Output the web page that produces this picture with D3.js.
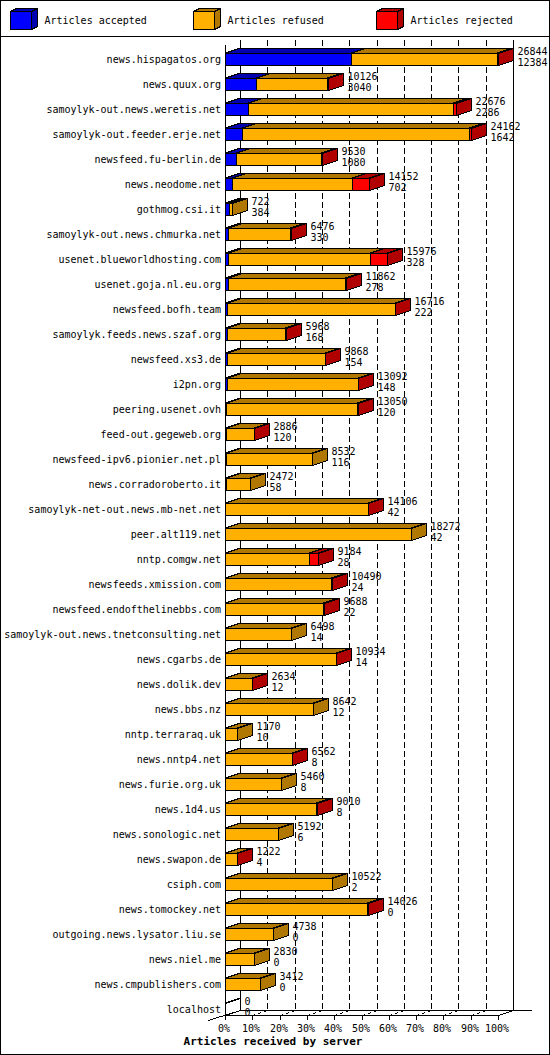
<!DOCTYPE html>
<html>
<head>
<meta charset="utf-8">
<script src="https://cdn.jsdelivr.net/npm/d3@7"></script>
<style>
  body { margin: 0; background: #fff; }
  text { font-family: "DejaVu Sans Mono", "Liberation Mono", monospace; }
</style>
</head>
<body>
<script>

// servers, top to bottom
const servers = [
  "news.hispagatos.org", "news.quux.org", "samoylyk-out.news.weretis.net",
  "samoylyk-out.feeder.erje.net", "newsfeed.fu-berlin.de", "news.neodome.net",
  "gothmog.csi.it", "samoylyk-out.news.chmurka.net", "usenet.blueworldhosting.com",
  "usenet.goja.nl.eu.org", "newsfeed.bofh.team", "samoylyk.feeds.news.szaf.org",
  "newsfeed.xs3.de", "i2pn.org", "peering.usenet.ovh", "feed-out.gegeweb.org",
  "newsfeed-ipv6.pionier.net.pl", "news.corradoroberto.it",
  "samoylyk-net-out.news.mb-net.net", "peer.alt119.net", "nntp.comgw.net",
  "newsfeeds.xmission.com", "newsfeed.endofthelinebbs.com",
  "samoylyk-out.news.tnetconsulting.net", "news.cgarbs.de", "news.dolik.dev",
  "news.bbs.nz", "nntp.terraraq.uk", "news.nntp4.net", "news.furie.org.uk",
  "news.1d4.us", "news.sonologic.net", "news.swapon.de", "csiph.com",
  "news.tomockey.net", "outgoing.news.lysator.liu.se", "news.niel.me",
  "news.cmpublishers.com", "localhost"
]

// articles accepted (second number on each bar)
const accepted = [12384, 3040, 2286, 1642, 1080, 702, 384, 330, 328, 278, 222, 168,
  154, 148, 120, 120, 116, 58, 42, 42, 28, 24, 22, 14, 14, 12, 12, 10, 8, 8, 8, 6,
  4, 2, 0, 0, 0, 0, 0]

// articles refused
const refused = [14370, 6976, 20110, 22340, 8400, 11810, 338, 6106, 13978, 11554,
  16454, 5770, 9694, 12914, 12900, 2746, 8416, 2414, 14044, 18230, 8206, 10446,
  9586, 6484, 10900, 2602, 8630, 1160, 6534, 5452, 8982, 5186, 1198, 10520, 14006,
  4738, 2830, 3412, 0]

// articles rejected (red part, mostly a sliver)
const rejected = [90, 110, 280, 180, 50, 1640, 0, 40, 1670, 30, 40, 30, 20, 30, 30,
  20, 0, 0, 20, 0, 950, 20, 80, 0, 20, 20, 0, 0, 20, 0, 20, 0, 20, 0, 20, 0, 0, 0, 0]

const tickLabels = ["0%", "10%", "20%", "30%", "40%", "50%", "60%", "70%", "80%", "90%", "100%"]
const legendLabels = ["Articles accepted", "Articles refused", "Articles rejected"]
const axisTitle = "Articles received by server"

let width = 550;
let height = 1055;

let colors = ["#0000ff", "#ffb000", "#ff0000"]
let darks = ["#0000b0", "#b07800", "#b00000"]

let svg = d3.select("body").append("svg")
    .attr("width", width)
    .attr("height", height)

// 3d depth of the bars
let dx = 15, dy = 5;

let data = servers.map(function (s, i) {
    return {
        name: s,
        values: [accepted[i], refused[i], rejected[i]],
        total: accepted[i] + refused[i] + rejected[i]
    }
})

let maxTotal = d3.max(data, d => d.total)

let x = d3.scaleLinear()
    .domain([0, maxTotal])
    .range([225, 498])

let pct = d3.scaleLinear()
    .domain([0, 100])
    .range([225, 498])

let y = d3.scalePoint()
    .domain(servers)
    .range([59, 1009])

let gridTop = 40, floorY = 1015;

// frame + legend separator
svg.append("rect")
    .attr("x", 0.5).attr("y", 0.5)
    .attr("width", width - 1).attr("height", height - 1)
    .style("fill", "#fff").style("stroke", "#000")

svg.append("line")
    .attr("x1", 0).attr("x2", width)
    .attr("y1", 36.5).attr("y2", 36.5)
    .style("stroke", "#000")

// legend cubes
legendLabels.forEach(function (lab, i) {
    let lx = 10.5 + i * 183, ly = 11.5
    let g = svg.append("g").attr("class", "legend").style("shape-rendering", "crispEdges")
    g.append("polygon")
        .attr("points", [[lx, ly], [lx + 21, ly], [lx + 27, ly - 3], [lx + 6, ly - 3]].join(" "))
        .style("fill", darks[i]).style("stroke", "#000")
    g.append("polygon")
        .attr("points", [[lx + 21, ly], [lx + 27, ly - 3], [lx + 27, ly + 15], [lx + 21, ly + 18]].join(" "))
        .style("fill", darks[i]).style("stroke", "#000")
    g.append("rect")
        .attr("x", lx).attr("y", ly)
        .attr("width", 21).attr("height", 18)
        .style("fill", colors[i]).style("stroke", "#000")
    svg.append("text")
        .attr("x", lx + 34).attr("y", 24)
        .text(lab)
        .style("font-size", "10px")
})

// grid lines on the back wall
let grid = svg.append("g").attr("class", "grid").style("shape-rendering", "crispEdges")

d3.range(0, 101, 10).forEach(function (p) {
    let bx = Math.round(pct(p) + dx) + 0.5
    grid.append("line")
        .attr("x1", bx).attr("x2", bx)
        .attr("y1", gridTop).attr("y2", floorY - dy)
        .style("stroke", "#000")
        .style("stroke-dasharray", (p == 0 || p == 100) ? null : "6,3")
    // floor lines going back
    if (p > 0) {
        grid.append("line")
            .attr("x1", Math.round(pct(p)) + 0.5).attr("y1", floorY + 0.5)
            .attr("x2", bx).attr("y2", floorY - dy + 0.5)
            .style("stroke", "#000")
            .style("stroke-dasharray", "3,3")
    }
})

// front axis, floor edges
grid.append("line")
    .attr("x1", 225.5).attr("x2", 225.5)
    .attr("y1", gridTop + dy).attr("y2", floorY)
    .style("stroke", "#000")
grid.append("line")
    .attr("x1", 225).attr("x2", 498.5)
    .attr("y1", floorY + 0.5).attr("y2", floorY + 0.5)
    .style("stroke", "#000")
grid.append("line")
    .attr("x1", 240).attr("x2", 532)
    .attr("y1", floorY - dy + 0.5).attr("y2", floorY - dy + 0.5)
    .style("stroke", "#000")
grid.append("line")
    .attr("x1", 208).attr("y1", floorY + 5.5)
    .attr("x2", 240.5).attr("y2", floorY - dy + 0.5)
    .style("stroke", "#000")
grid.append("line")
    .attr("x1", 498.5).attr("y1", floorY + 0.5)
    .attr("x2", 513.5).attr("y2", floorY - dy + 0.5)
    .style("stroke", "#000")

// ticks + labels
tickLabels.forEach(function (t, i) {
    let tx = Math.round(pct(i * 10)) + 0.5
    svg.append("line")
        .attr("x1", tx).attr("x2", tx)
        .attr("y1", floorY).attr("y2", floorY + 5)
        .style("stroke", "#000")
    svg.append("text")
        .attr("x", tx - 1.5).attr("y", 1031.5)
        .attr("text-anchor", "middle")
        .text(t)
        .style("font-size", "10px")
})

svg.append("text")
    .attr("x", 273).attr("y", 1045)
    .attr("text-anchor", "middle")
    .text(axisTitle)
    .style("font-size", "11px")
    .style("font-weight", "bold")

// the bars
let bars = svg.append("g").attr("class", "bars").style("shape-rendering", "crispEdges")

data.forEach(function (d) {
    let c = y(d.name)
    let y0 = c - 6, y1 = c + 6
    let start = 0, last = 0
    let segs = []
    d.values.forEach(function (v, k) {
        if (v > 0) {
            segs.push({ k: k, a: start, b: start + v })
            last = k
        }
        start += v
    })
    // empty server: just the outline of a flat bar
    let empty = segs.length == 0
    if (empty) segs.push({ k: 0, a: 0, b: 0 })

    segs.forEach(function (s) {
        let xa = Math.round(x(s.a)) + 0.5, xb = Math.round(x(s.b)) + 0.5
        bars.append("polygon")
            .attr("points", [[xa, y0], [xb, y0], [xb + dx, y0 - dy], [xa + dx, y0 - dy]].join(" "))
            .style("fill", empty ? "none" : darks[s.k]).style("stroke", "#000")
        bars.append("rect")
            .attr("x", xa).attr("y", y0 + 0.5)
            .attr("width", xb - xa).attr("height", y1 - y0)
            .style("fill", empty ? "none" : colors[s.k]).style("stroke", "#000")
    })

    let xe = Math.round(x(d.total)) + 0.5
    bars.append("polygon")
        .attr("points", [[xe, y0 + 0.5], [xe + dx, y0 - dy + 0.5], [xe + dx, y1 - dy + 0.5], [xe, y1 + 0.5]].join(" "))
        .style("fill", empty ? "none" : darks[last]).style("stroke", "#000")

    // server name
    svg.append("text")
        .attr("x", 221).attr("y", c + 3.5)
        .attr("text-anchor", "end")
        .text(d.name)
        .style("font-size", "10px")

    // offered / accepted numbers
    svg.append("text")
        .attr("x", xe + 19).attr("y", c - 4.5)
        .text(d.total)
        .style("font-size", "10px")
    svg.append("text")
        .attr("x", xe + 19).attr("y", c + 6.5)
        .text(d.values[0])
        .style("font-size", "10px")
})

</script>
</body>
</html>
